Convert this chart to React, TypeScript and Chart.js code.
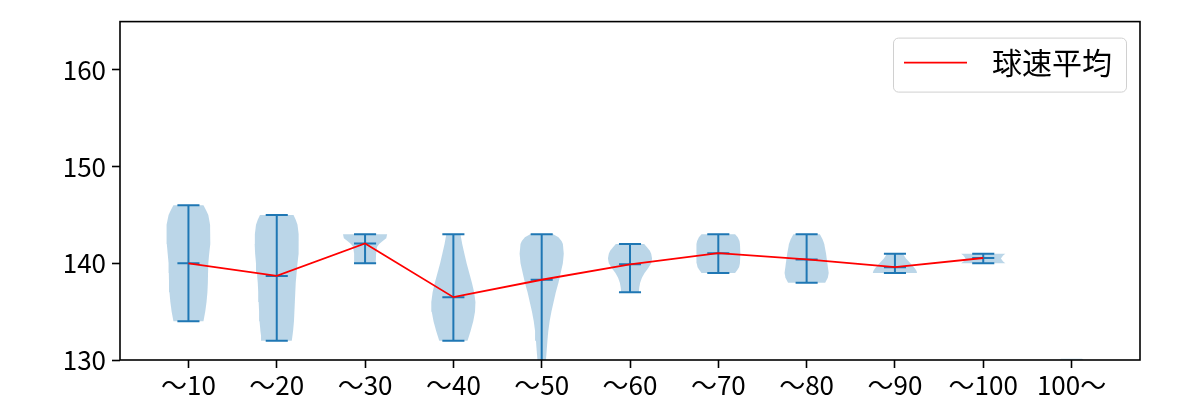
import React, { useEffect, useRef } from 'react';
import { Chart, registerables } from 'chart.js';

Chart.register(...registerables);

// ---- data ----
const categories = ['～10', '～20', '～30', '～40', '～50', '～60', '～70', '～80', '～90', '～100', '100～'];
const yTicks = [130, 140, 150, 160];
const maxSpeed = [146, 145, 143, 143, 143, 142, 143, 143, 141, 141];
const minSpeed = [134, 132, 140, 132, 128, 137, 139, 138, 139, 140];
const meanSpeed = [140.0, 138.7, 142.05, 136.5, 138.3, 139.9, 141.05, 140.4, 139.6, 140.55];
const legendLabel = '球速平均';

// violin outlines: [speed, half width in category units], top to bottom
const violin10 = [[146, 0.17], [145.5, 0.2], [145, 0.225], [144, 0.245], [143, 0.25], [142, 0.245], [141, 0.235], [140, 0.225], [139, 0.222], [138, 0.22], [137, 0.215], [136, 0.205], [135, 0.19], [134.5, 0.18], [134, 0.17]];
const violin20 = [[145, 0.19], [144.5, 0.215], [144, 0.235], [143, 0.248], [142, 0.25], [141, 0.245], [140, 0.235], [139, 0.225], [138, 0.215], [137, 0.21], [136, 0.205], [135, 0.2], [134, 0.195], [133, 0.185], [132.5, 0.178], [132, 0.17]];
const violin30 = [[143, 0.25], [142.6, 0.24], [142.3, 0.2], [142, 0.16], [141.7, 0.135], [141, 0.125], [140.5, 0.123], [140, 0.12]];
const violin40 = [[143, 0.08], [142, 0.1], [141, 0.125], [140, 0.15], [139, 0.18], [138, 0.21], [137, 0.235], [136, 0.25], [135, 0.245], [134, 0.225], [133, 0.195], [132.5, 0.178], [132, 0.16]];
const violin50 = [[143, 0.13], [142.7, 0.19], [142.3, 0.225], [142, 0.24], [141, 0.25], [140, 0.24], [139, 0.215], [138, 0.19], [137, 0.16], [136, 0.135], [135, 0.11], [134, 0.09], [133, 0.075], [132, 0.065], [131, 0.057], [130, 0.048], [129, 0.035], [128, 0.02]];
const violin60 = [[142, 0.16], [141.7, 0.19], [141.3, 0.225], [141, 0.24], [140.5, 0.25], [140, 0.24], [139.5, 0.205], [139, 0.165], [138.5, 0.135], [138, 0.115], [137.5, 0.105], [137, 0.1]];
const violin70 = [[143, 0.19], [142.7, 0.22], [142.3, 0.24], [142, 0.245], [141, 0.25], [140, 0.245], [139.6, 0.235], [139.3, 0.215], [139, 0.19]];
const violin80 = [[143, 0.15], [142.5, 0.18], [142, 0.2], [141, 0.22], [140, 0.235], [139, 0.25], [138.5, 0.24], [138, 0.21]];
const violin90 = [[141, 0.09], [140.5, 0.125], [140, 0.175], [139.5, 0.225], [139.2, 0.245], [139, 0.25]];
const violin100 = [[141, 0.25], [140.8, 0.225], [140.5, 0.2], [140.2, 0.225], [140, 0.25]];
const violinOver100 = [[130.12, 0.12], [129.5, 0.2], [129, 0.25], [128, 0.15]];
const violinShapes = [violin10, violin20, violin30, violin40, violin50, violin60, violin70, violin80, violin90, violin100, violinOver100];

// ---- styles ----
const BLUE = '#1f77b4';
const BODY = 'rgba(31,119,180,0.3)';
const CAP = 0.125;
const FONT = '"Noto Sans CJK JP", "Noto Sans", sans-serif';

const framePlugin = {
  id: 'frameAndLegend',
  afterDatasetsDraw(chart: any) {
    const { ctx, chartArea: a } = chart;
    ctx.save();
    ctx.strokeStyle = '#000';
    ctx.lineWidth = 1.6;
    ctx.strokeRect(a.left, a.top, a.right - a.left, a.bottom - a.top);

    const bx = a.right - 247;
    const by = a.top + 16;
    const bw = 233;
    const bh = 54;
    ctx.beginPath();
    (ctx as any).roundRect(bx + 0.5, by + 0.5, bw, bh, 5);
    ctx.fillStyle = 'rgba(255,255,255,0.8)';
    ctx.fill();
    ctx.strokeStyle = '#d0d0d0';
    ctx.lineWidth = 1;
    ctx.stroke();

    ctx.beginPath();
    ctx.strokeStyle = 'red';
    ctx.lineWidth = 1.8;
    ctx.moveTo(bx + 11, by + 25);
    ctx.lineTo(bx + 74, by + 25);
    ctx.stroke();

    ctx.fillStyle = '#000';
    ctx.font = `30px ${FONT}`;
    ctx.textBaseline = 'middle';
    ctx.textAlign = 'left';
    ctx.fillText(legendLabel, bx + 99, by + 25);
    ctx.restore();
  },
};

export default function App() {
  const ref = useRef<HTMLCanvasElement>(null);

  useEffect(() => {
    if (!ref.current) return;

    const bodies = violinShapes.map((shape, i) => {
      const pos = i + 1;
      const right = shape.map(([v, w]) => ({ x: pos + w, y: v }));
      const left = shape.slice().reverse().map(([v, w]) => ({ x: pos - w, y: v }));
      return {
        type: 'line' as const,
        label: categories[i],
        data: [...right, ...left],
        fill: 'shape',
        backgroundColor: BODY,
        borderColor: 'transparent',
        borderWidth: 0,
        pointRadius: 0,
        tension: 0,
        clip: 0,
      };
    });

    const whiskers: any[] = [];
    maxSpeed.forEach((mx, i) => {
      const pos = i + 1;
      const mn = minSpeed[i];
      const me = meanSpeed[i];
      whiskers.push({ x: pos, y: mn }, { x: pos, y: mx }, { x: pos, y: null });
      whiskers.push({ x: pos - CAP, y: mx }, { x: pos + CAP, y: mx }, { x: pos, y: null });
      whiskers.push({ x: pos - CAP, y: mn }, { x: pos + CAP, y: mn }, { x: pos, y: null });
      whiskers.push({ x: pos - CAP, y: me }, { x: pos + CAP, y: me }, { x: pos, y: null });
    });

    const meanData = meanSpeed.map((m, i) => ({ x: i + 1, y: m }));

    const chart = new Chart(ref.current, {
      type: 'line',
      data: {
        datasets: [
          {
            label: legendLabel,
            data: meanData,
            borderColor: 'red',
            borderWidth: 1.8,
            pointRadius: 0,
            fill: false,
            clip: 0,
          } as any,
          {
            label: 'range',
            data: whiskers,
            borderColor: BLUE,
            borderWidth: 2,
            pointRadius: 0,
            fill: false,
            spanGaps: false,
            clip: 0,
            borderCapStyle: 'butt',
          } as any,
          ...(bodies as any[]),
        ],
      },
      options: {
        animation: false,
        responsive: false,
        maintainAspectRatio: false,
        devicePixelRatio: 1,
        parsing: true as any,
        layout: { padding: { top: 19, right: 60, left: 0, bottom: 0 } },
        plugins: {
          legend: { display: false },
          tooltip: { enabled: false },
        },
        scales: {
          x: {
            type: 'linear',
            min: 0.225,
            max: 11.775,
            afterBuildTicks: (scale: any) => {
              scale.ticks = categories.map((_, i) => ({ value: i + 1 }));
            },
            afterFit: (scale: any) => {
              scale.height = 40;
            },
            ticks: {
              autoSkip: false,
              maxRotation: 0,
              padding: 2,
              color: '#000',
              font: { family: FONT, size: 26 },
              callback: (v: any) => categories[Math.round(Number(v)) - 1] ?? '',
            },
            grid: {
              drawOnChartArea: false,
              drawTicks: true,
              tickLength: 8,
              tickColor: '#000',
              tickWidth: 1.6,
            },
            border: { display: false },
          },
          y: {
            type: 'linear',
            min: 130,
            max: 165,
            afterBuildTicks: (scale: any) => {
              scale.ticks = yTicks.map((v) => ({ value: v }));
            },
            afterFit: (scale: any) => {
              scale.width = 120;
            },
            ticks: {
              padding: 6,
              color: '#000',
              font: { family: FONT, size: 26 },
            },
            grid: {
              drawOnChartArea: false,
              drawTicks: true,
              tickLength: 8,
              tickColor: '#000',
              tickWidth: 1.6,
            },
            border: { display: false },
          },
        },
      } as any,
      plugins: [framePlugin],
    });

    return () => chart.destroy();
  }, []);

  return (
    <div style={{ position: 'absolute', left: 0, top: 0, width: 1200, height: 400, background: '#fff' }}>
      <canvas ref={ref} width={1200} height={400} style={{ display: 'block' }} />
    </div>
  );
}
